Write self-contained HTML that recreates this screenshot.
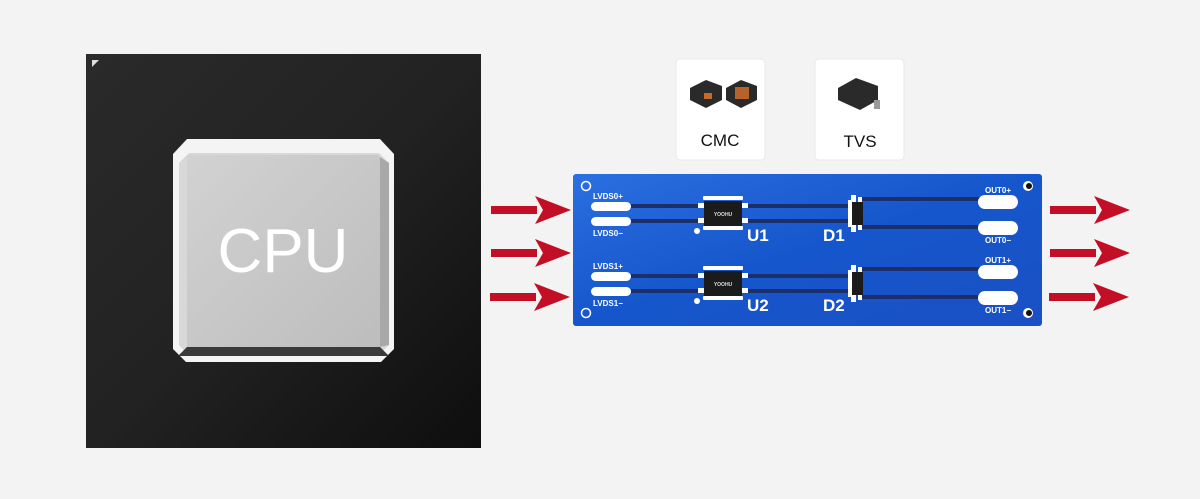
<!DOCTYPE html>
<html><head><meta charset="utf-8"><style>
html,body{margin:0;padding:0;background:#f3f3f3;width:1200px;height:499px;overflow:hidden}
svg{display:block}
</style></head><body>
<svg width="1200" height="499" viewBox="0 0 1200 499" xmlns="http://www.w3.org/2000/svg">
<defs>
<linearGradient id="bg" x1="0" y1="0" x2="1" y2="1"><stop offset="0" stop-color="#2a2a2a"/><stop offset="0.5" stop-color="#222"/><stop offset="1" stop-color="#0e0e0e"/></linearGradient>
<linearGradient id="face" x1="0" y1="0" x2="1" y2="1"><stop offset="0" stop-color="#d2d2d2"/><stop offset="1" stop-color="#bdbdbd"/></linearGradient>
<linearGradient id="pcb" x1="0" y1="0" x2="1" y2="1"><stop offset="0" stop-color="#2b6fe0"/><stop offset="0.5" stop-color="#1656cc"/><stop offset="1" stop-color="#1a50c4"/></linearGradient>
<g id="arr"><rect x="0" y="-4" width="46" height="8" fill="#c30f25"/><polygon points="44,-14 80,0 44,14 52,0" fill="#c30f25"/></g>
<g id="row">
 <rect x="591" y="202" width="40" height="9" rx="4.5" fill="#fff"/>
 <rect x="591" y="217" width="40" height="9" rx="4.5" fill="#fff"/>
 <rect x="631" y="204" width="220" height="4" fill="#1c2f6a"/>
 <rect x="631" y="219" width="220" height="4" fill="#1c2f6a"/>
 <rect x="862" y="197" width="118" height="4" fill="#1c2f6a"/>
 <rect x="862" y="225" width="118" height="4" fill="#1c2f6a"/>
 <rect x="978" y="195" width="40" height="14" rx="7" fill="#fff"/>
 <rect x="978" y="221" width="40" height="14" rx="7" fill="#fff"/>
 <rect x="703" y="196" width="40" height="4" rx="1" fill="#fff"/>
 <rect x="703" y="226" width="40" height="4" rx="1" fill="#fff"/>
 <rect x="698" y="203" width="50" height="5" fill="#fff"/>
 <rect x="698" y="218" width="50" height="5" fill="#fff"/>
 <rect x="704" y="201" width="38" height="25" fill="#1b1b1b"/>
 <text x="723" y="216" font-family="Liberation Sans,sans-serif" font-size="5" font-weight="bold" fill="#ddd" text-anchor="middle">YOOHU</text>
 <circle cx="697" cy="231" r="3" fill="#fff"/>
 <rect x="851" y="195" width="5" height="37" fill="#fff"/>
 <rect x="858" y="197" width="4" height="33" fill="#fff"/>
 <rect x="852" y="202" width="11" height="23" fill="#1b1b1b"/>
 <rect x="848" y="200" width="3" height="27" fill="#fff"/>
</g>
</defs>
<rect x="86" y="54" width="395" height="394" fill="url(#bg)"/>
<polygon points="92,60 99,60 92,67" fill="#ddd"/>
<polygon points="187,139 380,139 394,154 394,349 381,362 186,362 173,349 173,154" fill="#f4f4f4"/>
<polygon points="189,153 379,153 389,163 389,345 378,356 189,356 179,345 179,163" fill="#d8d8d8"/>
<polygon points="189,155 378,155 380,157 380,347 187,347 187,157" fill="url(#face)"/>
<polygon points="380,157 389,163 389,345 380,347" fill="#a8a8a8"/>
<polygon points="187,347 380,347 389,356 178,356" fill="#3a3a3a"/>
<text x="283" y="272" font-family="Liberation Sans,sans-serif" font-size="62" fill="#fff" text-anchor="middle">CPU</text>
<rect x="676" y="59" width="89" height="101" rx="4" fill="#fff" stroke="#e8e8e8"/>
<rect x="815" y="59" width="89" height="101" rx="4" fill="#fff" stroke="#e8e8e8"/>
<polygon points="690,88 706,80 722,86 722,100 706,108 690,100" fill="#2a2a2a"/>
<rect x="704" y="93" width="8" height="6" fill="#c66a2a"/>
<polygon points="726,88 741,80 757,86 757,100 741,108 726,100" fill="#2a2a2a"/>
<rect x="735" y="87" width="14" height="12" fill="#b5632a"/>
<text x="720" y="146" font-family="Liberation Sans,sans-serif" font-size="17" fill="#111" text-anchor="middle">CMC</text>
<polygon points="838,88 856,78 878,86 878,100 860,110 838,100" fill="#2a2a2a"/>
<rect x="874" y="100" width="6" height="9" fill="#999"/>
<text x="860" y="147" font-family="Liberation Sans,sans-serif" font-size="17" fill="#111" text-anchor="middle">TVS</text>
<rect x="573" y="174" width="469" height="152" rx="3" fill="url(#pcb)"/>
<use href="#row"/>
<use href="#row" transform="translate(0,70)"/>
<g fill="none" stroke="#fff" stroke-width="1.5"><circle cx="586" cy="186" r="4.5"/><circle cx="586" cy="313" r="4.5"/></g>
<circle cx="1028" cy="186" r="5" fill="#fff"/><circle cx="1029" cy="186" r="3" fill="#111"/>
<circle cx="1028" cy="313" r="5" fill="#fff"/><circle cx="1029" cy="313" r="3" fill="#111"/>
<g font-family="Liberation Sans,sans-serif" font-weight="bold" fill="#fff">
<text x="593" y="199" font-size="8">LVDS0+</text>
<text x="593" y="236" font-size="8">LVDS0−</text>
<text x="593" y="269" font-size="8">LVDS1+</text>
<text x="593" y="306" font-size="8">LVDS1−</text>
<text x="985" y="193" font-size="8">OUT0+</text>
<text x="985" y="243" font-size="8">OUT0−</text>
<text x="985" y="263" font-size="8">OUT1+</text>
<text x="985" y="313" font-size="8">OUT1−</text>
<text x="747" y="241" font-size="17">U1</text>
<text x="823" y="241" font-size="17">D1</text>
<text x="747" y="311" font-size="17">U2</text>
<text x="823" y="311" font-size="17">D2</text>
</g>
<use href="#arr" transform="translate(491,210)"/>
<use href="#arr" transform="translate(491,253)"/>
<use href="#arr" transform="translate(490,297)"/>
<use href="#arr" transform="translate(1050,210)"/>
<use href="#arr" transform="translate(1050,253)"/>
<use href="#arr" transform="translate(1049,297)"/>
</svg>
</body></html>
